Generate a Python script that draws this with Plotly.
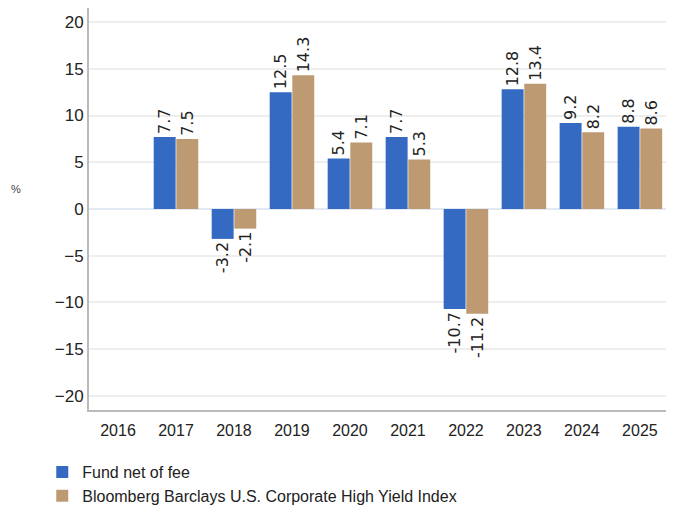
import plotly.graph_objects as go

years = ["2016", "2017", "2018", "2019", "2020", "2021", "2022", "2023", "2024", "2025"]
fund = [None, 7.7, -3.2, 12.5, 5.4, 7.7, -10.7, 12.8, 9.2, 8.8]
index = [None, 7.5, -2.1, 14.3, 7.1, 5.3, -11.2, 13.4, 8.2, 8.6]
y_ticks = [-20, -15, -10, -5, 0, 5, 10, 15, 20]
y_tick_text = ["\u221220", "\u221215", "\u221210", "\u22125", "0", "5", "10", "15", "20"]

label_font = dict(family="DejaVu Sans", size=16, color="#222222")

fig = go.Figure()
fig.add_trace(go.Bar(
    x=years, y=fund, name="Fund net of fee",
    marker=dict(color="#356AC3", line=dict(width=0)),
    text=[f"{v:.1f}" if v is not None else "" for v in fund],
    textposition="outside", textangle=-90, textfont=label_font,
    constraintext="none", cliponaxis=False,
))
fig.add_trace(go.Bar(
    x=years, y=index, name="Bloomberg Barclays U.S. Corporate High Yield Index",
    marker=dict(color="#BE9A73", line=dict(width=0)),
    text=[f"{v:.1f}" if v is not None else "" for v in index],
    textposition="outside", textangle=-90, textfont=label_font,
    constraintext="none", cliponaxis=False,
))

fig.update_layout(
    width=658, height=503,
    margin=dict(l=81, r=0, t=0, b=101, autoexpand=False),
    paper_bgcolor="white", plot_bgcolor="white",
    barmode="group", bargap=0.22, bargroupgap=0.03,
    font=dict(family="Liberation Sans", size=16, color="#222222"),
    showlegend=True,
    legend=dict(
        orientation="v", x=-0.081, xanchor="left", y=-0.112, yanchor="top",
        font=dict(family="Liberation Sans", size=16, color="#222222"),
        itemwidth=30, tracegroupgap=2, bgcolor="rgba(0,0,0,0)",
    ),
    annotations=[dict(
        text="%", xref="paper", yref="paper", x=-0.138, y=0.55,
        xanchor="left", yanchor="middle", showarrow=False,
        font=dict(family="Liberation Sans", size=11, color="#444444"),
    )],
)
fig.update_xaxes(
    type="category", range=[-0.5, 9.45], automargin=False,
    showline=True, linecolor="#BBBBBB", linewidth=2,
    showgrid=False, ticks="", ticklabelstandoff=5,
    tickfont=dict(size=16, color="#222222"),
)
fig.update_yaxes(
    range=[-21.5, 21.5], tickvals=y_ticks, ticktext=y_tick_text, automargin=False,
    showline=True, linecolor="#BBBBBB", linewidth=2,
    showgrid=True, gridcolor="#EEEEEE", gridwidth=1.5,
    zeroline=True, zerolinecolor="#E3E9F4", zerolinewidth=2,
    ticks="", tickfont=dict(size=17, color="#222222"),
)

fig.write_html("out.html")
